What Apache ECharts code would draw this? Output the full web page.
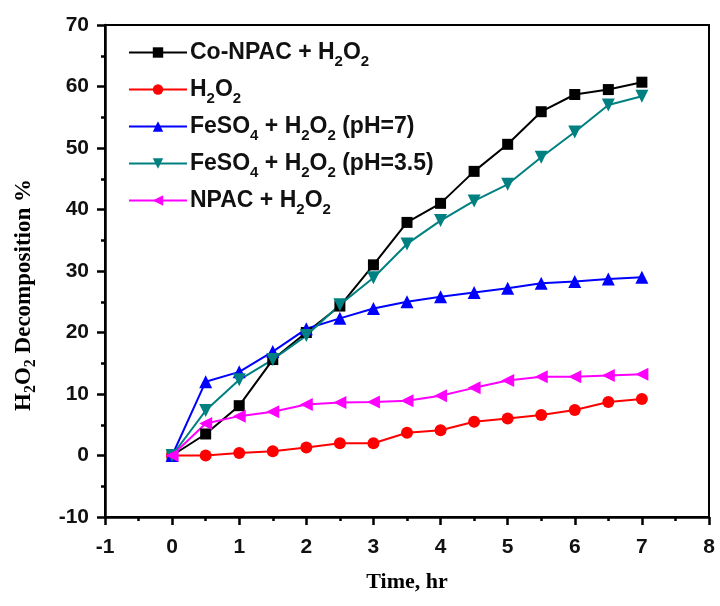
<!DOCTYPE html>
<html>
<head>
<meta charset="utf-8">
<script src="https://cdn.jsdelivr.net/npm/echarts@6/dist/echarts.min.js"></script>
<style>
  html, body { margin: 0; padding: 0; background: #fff; }
  #chart { width: 720px; height: 606px; }
</style>
</head>
<body>
<div id="chart"></div>
<script>
// time points (hr)
const times = [0, 0.5, 1, 1.5, 2, 2.5, 3, 3.5, 4, 4.5, 5, 5.5, 6, 6.5, 7];

// H2O2 decomposition %
const coNpac   = [0, 3.5, 8.1, 15.6, 20.0, 24.3, 31.0, 37.9, 41.0, 46.2, 50.6, 55.9, 58.7, 59.5, 60.7];
const h2o2Only = [0, 0, 0.4, 0.7, 1.3, 2.0, 2.0, 3.7, 4.1, 5.5, 6.0, 6.6, 7.4, 8.7, 9.2];
const feso4pH7 = [0, 12.0, 13.6, 16.9, 20.6, 22.3, 23.9, 25.0, 25.8, 26.5, 27.2, 28.0, 28.3, 28.7, 29.0];
const feso4pH35 = [0, 7.3, 12.3, 15.6, 19.5, 24.5, 28.9, 34.4, 38.2, 41.4, 44.1, 48.5, 52.6, 57.0, 58.4];
const npac     = [0, 5.2, 6.4, 7.1, 8.3, 8.6, 8.7, 8.9, 9.7, 11.0, 12.2, 12.8, 12.8, 13.0, 13.2];

const names = ['Co-NPAC + H2O2', 'H2O2', 'FeSO4 + H2O2 (pH=7)', 'FeSO4 + H2O2 (pH=3.5)', 'NPAC + H2O2'];
// legend text with subscripts
const legendRich = {
  'Co-NPAC + H2O2': '{n|Co-NPAC + H}{s|2}{n|O}{s|2}',
  'H2O2': '{n|H}{s|2}{n|O}{s|2}',
  'FeSO4 + H2O2 (pH=7)': '{n|FeSO}{s|4}{n| + H}{s|2}{n|O}{s|2}{n| (pH=7)}',
  'FeSO4 + H2O2 (pH=3.5)': '{n|FeSO}{s|4}{n| + H}{s|2}{n|O}{s|2}{n| (pH=3.5)}',
  'NPAC + H2O2': '{n|NPAC + H}{s|2}{n|O}{s|2}'
};

const sans = 'Liberation Sans, Arial, sans-serif';
const serif = 'Liberation Serif, Times New Roman, serif';

function pairs(vals) {
  return vals.map((v, i) => [times[i], v]);
}

function makeSeries(name, vals, color, symbol, rotate, size) {
  return {
    name: name,
    type: 'line',
    data: pairs(vals),
    symbol: symbol,
    symbolSize: size,
    symbolRotate: rotate,
    lineStyle: { color: color, width: 2 },
    itemStyle: { color: color },
    emphasis: { disabled: true },
    animation: false
  };
}

const chart = echarts.init(document.getElementById('chart'));
chart.setOption({
  backgroundColor: '#fff',
  animation: false,
  grid: {
    left: 105, right: 11, top: 25, bottom: 89,
    show: true, borderColor: '#000', borderWidth: 2
  },
  legend: {
    orient: 'vertical',
    left: 123, top: 36,
    itemWidth: 58, itemHeight: 13,
    itemGap: 9,
    data: names,
    formatter: n => legendRich[n],
    textStyle: {
      padding: [0, 0, 0, -2],
      rich: {
        n: { fontFamily: sans, fontWeight: 'bold', fontSize: 23, color: '#111' },
        s: { fontFamily: sans, fontWeight: 'bold', fontSize: 15, color: '#111', padding: [18, 0, 0, 0] }
      }
    }
  },
  graphic: [{
    type: 'text',
    x: 24, y: 295,
    rotation: Math.PI / 2,
    style: {
      text: '{t|H}{b|2}{t|O}{b|2}{t| Decomposition %}',
      align: 'center',
      verticalAlign: 'middle',
      rich: {
        t: { fontFamily: serif, fontWeight: 'bold', fontSize: 23, fill: '#000' },
        b: { fontFamily: serif, fontWeight: 'bold', fontSize: 16, fill: '#000', padding: [14, 0, 0, 0] }
      }
    }
  }],
  xAxis: {
    type: 'value',
    min: -1, max: 8, interval: 1,
    name: 'Time, hr',
    nameLocation: 'middle',
    nameGap: 54,
    nameTextStyle: { fontFamily: serif, fontWeight: 'bold', fontSize: 22, color: '#000' },
    axisLine: { onZero: false, lineStyle: { color: '#000', width: 2.5 } },
    axisTick: { inside: false, length: 8, lineStyle: { width: 2.5, color: '#000' } },
    minorTick: { show: true, splitNumber: 2, length: 4, lineStyle: { width: 2.5, color: '#000' } },
    splitLine: { show: false },
    axisLabel: { fontFamily: sans, fontWeight: 'bold', fontSize: 21, color: '#111', margin: 20 }
  },
  yAxis: {
    type: 'value',
    min: -10, max: 70, interval: 10,
    axisLine: { onZero: false, lineStyle: { color: '#000', width: 2.5 } },
    axisTick: { inside: false, length: 8, lineStyle: { width: 2.5, color: '#000' } },
    minorTick: { show: true, splitNumber: 2, length: 4, lineStyle: { width: 2.5, color: '#000' } },
    splitLine: { show: false },
    axisLabel: { fontFamily: sans, fontWeight: 'bold', fontSize: 21, color: '#111', margin: 16 }
  },
  series: [
    makeSeries(names[0], coNpac, '#000000', 'rect', 0, 11),
    makeSeries(names[1], h2o2Only, '#ff0000', 'circle', 0, 12),
    makeSeries(names[2], feso4pH7, '#0000ff', 'triangle', 0, 13),
    makeSeries(names[3], feso4pH35, '#008080', 'triangle', 180, 13),
    makeSeries(names[4], npac, '#ff00ff', 'triangle', 90, 13)
  ]
});
</script>
</body>
</html>
